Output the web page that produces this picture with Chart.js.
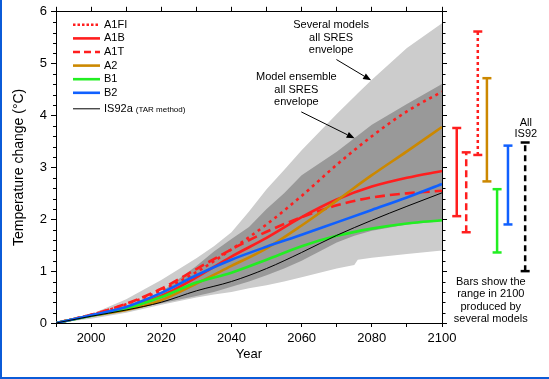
<!DOCTYPE html>
<html><head><meta charset="utf-8">
<script src="https://cdn.jsdelivr.net/npm/chart.js@4"></script>
<style>html,body{margin:0;padding:0;background:#fff;overflow:hidden}</style>
</head><body>
<canvas id="c" width="549" height="379"></canvas>
<script>
// ---- data ----
const years = [1990,2000,2010,2020,2030,2040,2050,2060,2070,2080,2090,2100];
const A1FI  = [0,0.16,0.36,0.63,0.98,1.42,1.90,2.45,3.05,3.60,4.08,4.46];
const A1B   = [0,0.15,0.30,0.52,0.88,1.28,1.64,2.04,2.38,2.63,2.80,2.93];
const A1T   = [0,0.16,0.37,0.66,1.04,1.42,1.76,2.04,2.27,2.42,2.50,2.55];
const A2    = [0,0.14,0.25,0.44,0.76,1.10,1.44,1.88,2.36,2.85,3.31,3.78];
const B1    = [0,0.14,0.28,0.50,0.78,0.97,1.22,1.48,1.68,1.82,1.92,1.98];
const B2    = [0,0.15,0.31,0.58,0.92,1.22,1.47,1.70,1.94,2.18,2.42,2.68];
const IS92a = [0,0.13,0.25,0.40,0.62,0.80,1.05,1.36,1.69,1.98,2.25,2.51];

const lightYears = [1990,2000,2010,2020,2030,2035,2040,2045,2050,2055,2060,2070,2075,2076,2080,2090,2100];
const lightUpper = [0,0.17,0.46,0.83,1.25,1.48,1.75,2.15,2.58,2.95,3.33,4.03,4.36,4.43,4.69,5.30,5.78];
const lightLower = [0,0.08,0.20,0.35,0.49,0.55,0.60,0.67,0.73,0.80,0.88,1.05,1.12,1.22,1.26,1.33,1.40];
const darkYears  = [1990,2000,2010,2020,2030,2035,2040,2045,2050,2055,2060,2070,2075,2080,2090,2100];
const darkUpper  = [0,0.13,0.33,0.60,1.10,1.38,1.62,1.85,2.20,2.50,2.85,3.30,3.56,3.82,4.22,4.61];
const darkLower  = [0,0.11,0.24,0.38,0.52,0.60,0.70,0.80,0.92,1.05,1.20,1.55,1.68,1.78,1.90,1.96];

// ranges in 2100 produced by several models
const rangeNames = ['A1B','A1T','A1FI','A2','B1','B2','IS92'];
const rangeLow   = [2.06,1.75,3.24,2.73,1.36,1.90,1.00];
const rangeHigh  = [3.76,3.29,5.62,4.72,2.58,3.42,3.48];
const rangeSlot  = [2104.2,2106.9,2110.2,2112.8,2115.7,2118.8,2123.7];

const xTicks = [1990,2000,2010,2020,2030,2040,2050,2060,2070,2080,2090,2100];
const yTicks = [0,1,2,3,4,5,6];

// ---- styles ----
const FONT = '"Liberation Sans", Arial, Helvetica, sans-serif';
Chart.defaults.font.family = FONT;
const RED = '#ff1e1e', ORANGE = '#cc8800', GREEN = '#22ee22', BLUE = '#1060ff';
const style = {
  A1FI:{color:RED, width:2.6, dash:[3,4], legDash:[2.5,2]},
  A1B:{color:RED, width:2.6, dash:[], legDash:[]},
  A1T:{color:RED, width:2.6, dash:[10,5], legDash:[7,4]},
  A2:{color:ORANGE, width:2.6, dash:[], legDash:[]},
  B1:{color:GREEN, width:2.6, dash:[], legDash:[]},
  B2:{color:BLUE, width:2.6, dash:[], legDash:[]},
  IS92a:{color:'#000', width:1, dash:[], legDash:[]},
  IS92:{color:'#000', width:2.4, dash:[6,4]}
};
const barDash = {A1B:[], A1T:[7,4], A1FI:[3,3], A2:[], B1:[], B2:[], IS92:[6,4]};

const seriesList = [['A1FI',A1FI],['A1B',A1B],['A1T',A1T],['A2',A2],['B1',B1],['B2',B2],['IS92a',IS92a]];

const datasets = [];
seriesList.forEach(([n,arr],i)=>{
  const s = style[n];
  datasets.push({label:n, data: years.map((yr,k)=>({x:yr,y:arr[k]})), borderColor:s.color,
    borderWidth:s.width, borderDash:s.dash, pointRadius:0, fill:false,
    cubicInterpolationMode:'monotone', order: 1 + (6-i)*0.01});
});
const rangeStart = datasets.length;
rangeNames.forEach((n,i)=>{
  const c = (style[n]||style.IS92).color;
  datasets.push({label:'range '+n, data:[{x:rangeSlot[i],y:rangeLow[i]},{x:rangeSlot[i],y:rangeHigh[i]}],
    borderColor:c, borderWidth:2.5, borderDash:barDash[n], pointRadius:0, fill:false, clip:false, order:0});
});
datasets.push({label:'darkU', data: darkYears.map((yr,k)=>({x:yr,y:darkUpper[k]})), borderWidth:0, borderColor:'rgba(0,0,0,0)', pointRadius:0, backgroundColor:'#999999', fill:'+1', order:10, tension:0});
datasets.push({label:'darkL', data: darkYears.map((yr,k)=>({x:yr,y:darkLower[k]})), borderWidth:0, borderColor:'rgba(0,0,0,0)', pointRadius:0, fill:false, order:10, tension:0});
datasets.push({label:'lightU', data: lightYears.map((yr,k)=>({x:yr,y:lightUpper[k]})), borderWidth:0, borderColor:'rgba(0,0,0,0)', pointRadius:0, backgroundColor:'#cccccc', fill:'+1', order:20, tension:0});
datasets.push({label:'lightL', data: lightYears.map((yr,k)=>({x:yr,y:lightLower[k]})), borderWidth:0, borderColor:'rgba(0,0,0,0)', pointRadius:0, fill:false, order:20, tension:0});

// annotation texts (anchored in data coordinates)
const notes = [
  {x:2068.4, y:[5.74,5.50,5.26], lines:['Several models','all SRES','envelope']},
  {x:2058.5, y:[4.74,4.50,4.26], lines:['Model ensemble','all SRES','envelope']},
  {x:2123.9, y:[3.86,3.64], lines:['All','IS92']},
  {x:2113.9, y:[0.79,0.56,0.31,0.08], lines:['Bars show the','range in 2100','produced by','several models']}
];
const arrows = [
  {from:[2069.9,5.08], to:[2079.8,4.68]},
  {from:[2059.9,4.07], to:[2075.1,3.56]}
];

const deco = {
  id:'deco',
  afterDraw(chart){
    const {ctx, chartArea:a} = chart;
    const x = chart.scales.x, y = chart.scales.y;
    ctx.save();
    // caps of the range bars, at the library-computed end points
    for (let i=0;i<rangeNames.length;i++){
      const meta = chart.getDatasetMeta(rangeStart+i);
      ctx.strokeStyle = chart.data.datasets[rangeStart+i].borderColor;
      ctx.lineWidth = 2.5; ctx.setLineDash([]);
      meta.data.forEach(pt=>{
        ctx.beginPath(); ctx.moveTo(pt.x-4.5, pt.y); ctx.lineTo(pt.x+4.5, pt.y); ctx.stroke();
      });
    }
    // minor ticks every 0.2 on left and right axes
    ctx.strokeStyle = '#000'; ctx.lineWidth = 1;
    for (let i=1;i<30;i++){
      if (i%5===0) continue;
      const py = Math.round(y.getPixelForValue(i/5))+0.5;
      ctx.beginPath();
      ctx.moveTo(a.left-3,py); ctx.lineTo(a.left,py);
      ctx.moveTo(a.right,py); ctx.lineTo(a.right+3.5,py);
      ctx.stroke();
    }
    // legend
    const names = ['A1FI','A1B','A1T','A2','B1','B2','IS92a'];
    names.forEach((n,i)=>{
      const s = style[n];
      const ry = i<6 ? a.top + 13 + 13.6*i : a.top + 97;
      ctx.strokeStyle = s.color; ctx.lineWidth = n==='IS92a'?1:2.6;
      ctx.setLineDash(s.legDash);
      ctx.beginPath(); ctx.moveTo(a.left+17, ry); ctx.lineTo(a.left+44, ry); ctx.stroke();
      ctx.setLineDash([]);
      ctx.fillStyle = '#000'; ctx.textAlign='left'; ctx.textBaseline='middle';
      ctx.font = '11px '+FONT;
      ctx.fillText(n, a.left+48, ry);
      if (n==='IS92a'){
        const w = ctx.measureText(n).width;
        ctx.font = '8px '+FONT;
        ctx.fillText('(TAR method)', a.left+48+w+3, ry+1);
      }
    });
    // annotation texts
    ctx.fillStyle = '#000'; ctx.textAlign='center'; ctx.textBaseline='middle';
    ctx.font = '11px '+FONT;
    notes.forEach(nt=>{
      const px = x.getPixelForValue(nt.x);
      nt.lines.forEach((t,k)=> ctx.fillText(t, px, y.getPixelForValue(nt.y[k])));
    });
    // arrows
    ctx.strokeStyle='#000'; ctx.fillStyle='#000'; ctx.lineWidth=1;
    arrows.forEach(ar=>{
      const x0 = x.getPixelForValue(ar.from[0]), y0 = y.getPixelForValue(ar.from[1]);
      const x1 = x.getPixelForValue(ar.to[0]), y1 = y.getPixelForValue(ar.to[1]);
      const ang = Math.atan2(y1-y0, x1-x0);
      const L = 8, W = 3.2;
      const bx = x1 - L*Math.cos(ang), by = y1 - L*Math.sin(ang);
      ctx.beginPath(); ctx.moveTo(x0,y0); ctx.lineTo(bx,by); ctx.stroke();
      ctx.beginPath(); ctx.moveTo(x1,y1);
      ctx.lineTo(bx + W*Math.sin(ang), by - W*Math.cos(ang));
      ctx.lineTo(bx - W*Math.sin(ang), by + W*Math.cos(ang));
      ctx.closePath(); ctx.fill();
    });
    // blue frame
    ctx.fillStyle = '#0b5bd8';
    ctx.fillRect(0,0,2,chart.height);
    ctx.fillRect(0,chart.height-2,chart.width,2);
    ctx.restore();
  }
};

const axisBorder = {display:true, color:'#000', width:1};
new Chart(document.getElementById('c'), {
  type:'line',
  data:{datasets},
  options:{
    responsive:false, animation:false, events:[],
    layout:{padding:0},
    plugins:{legend:{display:false}, tooltip:{enabled:false}},
    scales:{
      x:{type:'linear', position:'bottom', min:xTicks[0], max:xTicks[xTicks.length-1],
        afterBuildTicks: s => { s.ticks = xTicks.map(v=>({value:v})); },
        ticks:{callback:v => (v%20===0 && v>1990) ? String(v) : '', color:'#000', font:{size:13}, padding:4, maxRotation:0, autoSkip:false},
        grid:{drawOnChartArea:false, tickLength:4, tickColor:'#000', color:'#000'},
        border:axisBorder,
        title:{display:true, text:'Year', color:'#000', font:{size:13}, padding:{top:0,bottom:17}},
        afterFit: s => { s.height = 56; }
      },
      x2:{type:'linear', position:'top', min:xTicks[0], max:xTicks[xTicks.length-1],
        afterBuildTicks: s => { s.ticks = xTicks.map(v=>({value:v})); },
        ticks:{callback:()=>'', autoSkip:false},
        grid:{drawOnChartArea:false, tickLength:5, tickColor:'#000', color:'#000'},
        border:axisBorder,
        afterFit: s => { s.height = 9; }
      },
      y:{type:'linear', position:'left', min:yTicks[0], max:yTicks[yTicks.length-1],
        afterBuildTicks: s => { s.ticks = yTicks.map(v=>({value:v})); },
        ticks:{callback:v=>String(v), color:'#000', font:{size:13}, padding:4},
        grid:{drawOnChartArea:false, tickLength:5, tickColor:'#000', color:'#000'},
        border:axisBorder,
        title:{display:true, text:'Temperature change (°C)', color:'#000', font:{size:14}, padding:{top:11,bottom:0}},
        afterFit: s => { s.width = 56; }
      },
      y2:{type:'linear', position:'right', min:yTicks[0], max:yTicks[yTicks.length-1],
        afterBuildTicks: s => { s.ticks = yTicks.map(v=>({value:v})); },
        ticks:{callback:()=>''},
        grid:{drawOnChartArea:false, tickLength:5, tickColor:'#000', color:'#000'},
        border:axisBorder,
        afterFit: s => { s.width = 107; }
      }
    }
  },
  plugins:[deco]
});
</script>
</body></html>
